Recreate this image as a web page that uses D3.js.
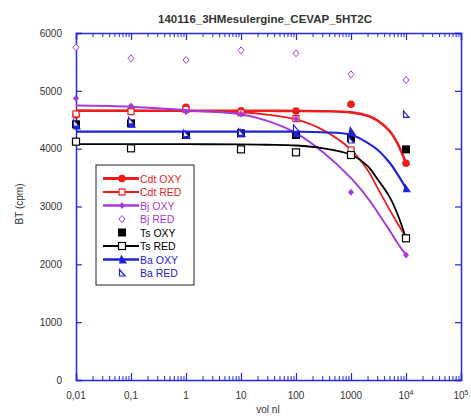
<!DOCTYPE html>
<html><head><meta charset="utf-8">
<script src="https://cdn.jsdelivr.net/npm/d3@7"></script>
<style>
body{margin:0;background:#fff;}
svg{display:block;font-family:"Liberation Sans",Arial,sans-serif;}
</style></head>
<body><svg id="c" width="471" height="416"></svg>
<script>
// ---- data ----
const concentrations = [0.01, 0.1, 1, 10, 100, 1000, 10000];
const cdtOxy = [4582, 4668, 4715, 4656, 4651, 4767, 3747];
const cdtRed = [4600, 4640, 4680, 4620, 4520, 3977, 2460];
const bjOxy  = [4870, 4738, 4640, 4599, 4513, 3245, 2161];
const bjRed  = [5752, 5562, 5533, 5700, 5648, 5285, 5187];
const tsOxy  = [4421, 4438, 4236, 4265, 4236, 4178, 3988];
const tsRed  = [4121, 4006, null, 3988, 3936, 3890, 2450];
const baOxy  = [4400, 4430, 4240, 4270, 4265, 4305, 3314];
const baRed  = [4440, 4480, 4260, 4280, 4352, 4150, 4594];

// fitted curves
const curveX      = [0.01, 0.1, 1, 10, 30, 100, 300, 1000, 2000, 3000, 5000, 7000, 10000];
const cdtOxyCurve = [4656, 4656, 4656, 4656, 4655, 4652, 4648, 4628, 4570, 4490, 4310, 4090, 3750];
const cdtRedCurve = [4660, 4658, 4650, 4630, 4590, 4505, 4330, 3985, 3630, 3330, 2950, 2710, 2470];
const bjOxyCurve  = [4745, 4725, 4665, 4595, 4480, 4270, 3950, 3490, 3150, 2910, 2590, 2370, 2160];
const tsRedCurve  = [4078, 4078, 4077, 4075, 4068, 4055, 4010, 3895, 3700, 3480, 3170, 2870, 2450];
const baOxyCurve  = [4294, 4294, 4294, 4294, 4294, 4293, 4284, 4240, 4100, 3985, 3760, 3560, 3314];

const xTickValues = [0.01, 0.1, 1, 10, 100, 1000, 10000, 100000];
const xTickLabels = ["0,01", "0,1", "1", "10", "100", "1000", "10^4", "10^5"];
const yTickValues = [0, 1000, 2000, 3000, 4000, 5000, 6000];
const yTickLabels = ["0", "1000", "2000", "3000", "4000", "5000", "6000"];

const seriesNames = ["Cdt OXY", "Cdt RED", "Bj OXY", "Bj RED", "Ts OXY", "Ts RED", "Ba OXY", "Ba RED"];

// ---- layout ----
const RED = "#ee1c1c", PUR = "#a43be0", BLK = "#000000", BLU = "#1e22dd", AX = "#2428e0";
const svg = d3.select("#c");
const x = d3.scaleLog().domain([0.01, 1e5]).range([76, 461]);
const y = d3.scaleLinear().domain([0, 6000]).range([380, 33]);

// title
svg.append("text").attr("x", 265).attr("y", 23).attr("text-anchor", "middle")
  .attr("font-size", 11.5).attr("font-weight", "bold").attr("fill", "#333")
  .text("140116_3HMesulergine_CEVAP_5HT2C");

// axes
const minorTicks = [];
for (let e = -2; e < 5; e++) for (let k = 2; k <= 9; k++) minorTicks.push(k * Math.pow(10, e));

function styleAxis(g){ g.selectAll("path").attr("stroke", AX).attr("stroke-width", 1.5);
  g.selectAll("line").attr("stroke", AX).attr("stroke-width", 1.2); }

// bottom
const gB = svg.append("g").attr("transform", "translate(0,380)")
  .call(d3.axisBottom(x).tickValues(xTickValues).tickSize(-7).tickFormat(() => ""));
styleAxis(gB);
gB.append("g").call(d3.axisBottom(x).tickValues(minorTicks).tickSize(-4).tickFormat(() => ""))
  .call(g => { g.select("path").remove(); g.selectAll("line").attr("stroke", AX).attr("stroke-width", 1); });
xTickValues.forEach((v, i) => {
  const lab = xTickLabels[i];
  const t = svg.append("text").attr("x", x(v)).attr("y", 399).attr("text-anchor", "middle")
    .attr("font-size", 10).attr("fill", "#333");
  if (lab.includes("^")) {
    const [b, e] = lab.split("^");
    t.append("tspan").text(b);
    t.append("tspan").attr("dy", -4).attr("font-size", 7).text(e);
  } else t.text(lab);
});
// top
const gT = svg.append("g").attr("transform", "translate(0,33)")
  .call(d3.axisTop(x).tickValues(xTickValues).tickSize(-7).tickFormat(() => ""));
styleAxis(gT);
gT.append("g").call(d3.axisTop(x).tickValues(minorTicks).tickSize(-4).tickFormat(() => ""))
  .call(g => { g.select("path").remove(); g.selectAll("line").attr("stroke", AX).attr("stroke-width", 1); });
// left
const gL = svg.append("g").attr("transform", "translate(76,0)")
  .call(d3.axisLeft(y).tickValues(yTickValues).tickSize(-6).tickPadding(14)
    .tickFormat((d, i) => yTickLabels[i]));
styleAxis(gL);
gL.selectAll("text").attr("font-size", 10).attr("fill", "#333").attr("font-family", "Liberation Sans, Arial, sans-serif");
// right
const gR = svg.append("g").attr("transform", "translate(461,0)")
  .call(d3.axisRight(y).tickValues(yTickValues).tickSize(-6).tickFormat(() => ""));
styleAxis(gR);

// axis titles
svg.append("text").attr("transform", "translate(23,204) rotate(-90)").attr("text-anchor", "middle")
  .attr("font-size", 10).attr("fill", "#333").text("BT (cpm)");
svg.append("text").attr("x", 268).attr("y", 413).attr("text-anchor", "middle")
  .attr("font-size", 10).attr("fill", "#333").text("vol nl");

// markers
function marker(g, type, color, cx, cy) {
  switch (type) {
    case "circle": g.append("circle").attr("cx", cx).attr("cy", cy).attr("r", 3.8).attr("fill", color); break;
    case "osq": g.append("rect").attr("x", cx - 3).attr("y", cy - 3).attr("width", 6).attr("height", 6)
      .attr("fill", "#fff").attr("stroke", color).attr("stroke-width", 1.2); break;
    case "dia": g.append("path").attr("d", `M${cx},${cy-3.5}L${cx+3},${cy}L${cx},${cy+3.5}L${cx-3},${cy}Z`).attr("fill", color); break;
    case "odia": g.append("path").attr("d", `M${cx},${cy-3.5}L${cx+3},${cy}L${cx},${cy+3.5}L${cx-3},${cy}Z`)
      .attr("fill", "#fff").attr("stroke", color).attr("stroke-width", 1); break;
    case "sq": g.append("rect").attr("x", cx - 4).attr("y", cy - 4).attr("width", 8).attr("height", 8).attr("fill", color); break;
    case "osqB": g.append("rect").attr("x", cx - 3.5).attr("y", cy - 3.5).attr("width", 7).attr("height", 7)
      .attr("fill", "#fff").attr("stroke", color).attr("stroke-width", 1.2); break;
    case "tri": g.append("path").attr("d", `M${cx-1},${cy-5}L${cx+5},${cy+4}L${cx-3},${cy+4}Z`).attr("fill", color); break;
    case "otri": g.append("path").attr("d", `M${cx-2.5},${cy-3.5}L${cx+3},${cy+3}L${cx-2.5},${cy+3}Z`)
      .attr("fill", "#fff").attr("stroke", color).attr("stroke-width", 1.2); break;
  }
}

const series = [
  {vals: cdtOxy, curve: cdtOxyCurve, color: RED, m: "circle", w: 2.6},
  {vals: cdtRed, curve: cdtRedCurve, color: RED, m: "osq", w: 1.8},
  {vals: bjOxy,  curve: bjOxyCurve,  color: PUR, m: "dia", w: 2},
  {vals: bjRed,  curve: null,        color: PUR, m: "odia", w: 0},
  {vals: tsOxy,  curve: null,        color: BLK, m: "sq", w: 0},
  {vals: tsRed,  curve: tsRedCurve,  color: BLK, m: "osqB", w: 1.8},
  {vals: baOxy,  curve: baOxyCurve,  color: BLU, m: "tri", w: 2.2},
  {vals: baRed,  curve: null,        color: BLU, m: "otri", w: 0}
];

const line = d3.line().x(d => x(d[0])).y(d => y(d[1])).curve(d3.curveCatmullRom.alpha(0.5));
const plot = svg.append("g");
series.forEach(s => {
  const g = plot.append("g");
  if (s.curve) g.append("path").attr("d", line(curveX.map((c, i) => [c, s.curve[i]])))
    .attr("fill", "none").attr("stroke", s.color).attr("stroke-width", s.w);
  concentrations.forEach((c, i) => { if (s.vals[i] != null) marker(g, s.m, s.color, x(c), y(s.vals[i])); });
});

// legend
const lg = svg.append("g");
lg.append("rect").attr("x", 96).attr("y", 165).attr("width", 98).attr("height", 120)
  .attr("fill", "#fff").attr("stroke", "#222").attr("stroke-width", 1);
seriesNames.forEach((name, i) => {
  const s = series[i], yy = 178.5 + i * 13.5;
  if (s.curve) lg.append("line").attr("x1", 103).attr("x2", 139).attr("y1", yy).attr("y2", yy)
    .attr("stroke", s.color).attr("stroke-width", s.w + 0.4);
  marker(lg, s.m, s.color, 122, yy);
  lg.append("text").attr("x", 140).attr("y", yy + 4).attr("font-size", 10.5).attr("fill", s.color).text(name);
});
</script></body></html>
